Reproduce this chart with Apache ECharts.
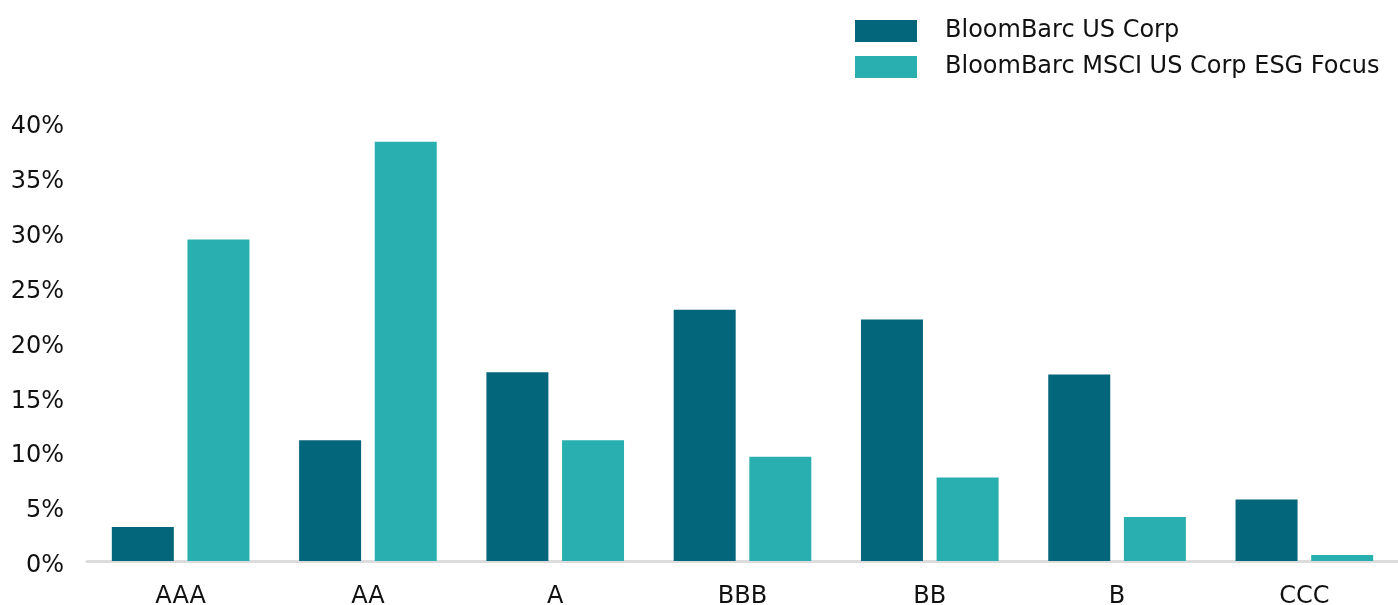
<!DOCTYPE html>
<html>
<head>
<meta charset="utf-8">
<script src="https://cdn.jsdelivr.net/npm/echarts@6/dist/echarts.min.js"></script>
<style>html,body{margin:0;padding:0;background:#fff}#c{width:1398px;height:605px}</style>
</head>
<body>
<div id="c"></div>
<script>
const categories = ['AAA','AA','A','BBB','BB','B','CCC'];
const seriesNames = ['BloomBarc US Corp','BloomBarc MSCI US Corp ESG Focus'];
const usCorp = [3.1, 11.0, 17.2, 22.9, 22.0, 17.0, 5.6];
const esgFocus = [29.3, 38.2, 11.0, 9.5, 7.6, 4.0, 0.55];
const yTicks = [0, 5, 10, 15, 20, 25, 30, 35, 40];

const chart = echarts.init(document.getElementById('c'));
chart.setOption({
  animation: false,
  legend: {
    orient: 'vertical',
    left: 850, top: 14,
    itemWidth: 62, itemHeight: 22, itemGap: 12,
    icon: 'rect',
    textStyle: {fontFamily: 'DejaVu Sans', fontSize: 24, color: '#111', padding: [0,0,0,23]},
    data: seriesNames
  },
  grid: {left: 87, right: 0, top: 122, bottom: 44, outerBoundsMode: 'none', containLabel: false},
  xAxis: {
    type: 'category', data: categories,
    axisLine: {lineStyle: {color: '#dcdcdc', width: 3}},
    axisTick: {show: false},
    axisLabel: {fontFamily: 'DejaVu Sans', fontSize: 24, color: '#111', margin: 24}
  },
  yAxis: {
    type: 'value', min: yTicks[0], max: yTicks[yTicks.length-1], interval: 5,
    splitLine: {show: false},
    axisLine: {show: false}, axisTick: {show: false},
    axisLabel: {fontFamily: 'DejaVu Sans', fontSize: 24, color: '#111', margin: 23, verticalAlign: 'top', lineHeight: 10, formatter: v => v + '%'}
  },
  series: [
    {name: seriesNames[0], type: 'bar', data: usCorp, barWidth: 62, barGap: '22%', itemStyle: {color: '#03667A'}},
    {name: seriesNames[1], type: 'bar', data: esgFocus, barWidth: 62, itemStyle: {color: '#2AAFB0'}}
  ]
});
</script>
</body>
</html>
